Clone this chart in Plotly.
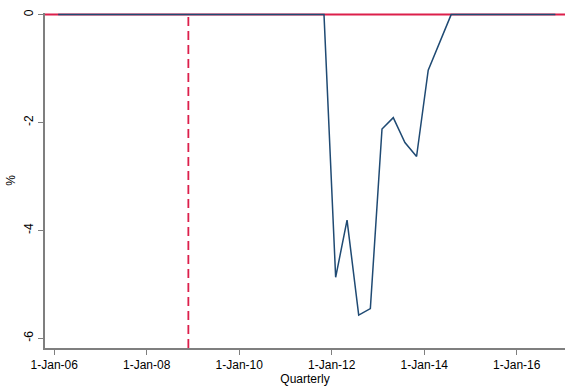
import plotly.graph_objects as go
import pandas as pd

# Quarterly series (%), mid-quarter dates from Feb 2006 to Nov 2016
dates = pd.date_range("2006-02-01", "2016-11-01", freq="3MS")
values = [0.0] * len(dates)
episode = {
    "2011-11-01": 0.0,
    "2012-02-01": -4.87,
    "2012-05-01": -3.81,
    "2012-08-01": -5.57,
    "2012-11-01": -5.45,
    "2013-02-01": -2.12,
    "2013-05-01": -1.91,
    "2013-08-01": -2.37,
    "2013-11-01": -2.63,
    "2014-02-01": -1.03,
    "2014-05-01": -0.52,
    "2014-08-01": 0.0,
}
for d, v in episode.items():
    values[list(dates).index(pd.Timestamp(d))] = v

event_date = "2008-11-25"
x_range = ["2005-10-20", "2017-01-16"]
y_range = [-6.18, 0.03]

x_tickvals = ["2006-01-01", "2008-01-01", "2010-01-01", "2012-01-01", "2014-01-01", "2016-01-01"]
x_ticktext = ["1-Jan-06", "1-Jan-08", "1-Jan-10", "1-Jan-12", "1-Jan-14", "1-Jan-16"]
y_tickvals = [0, -2, -4, -6]
y_ticktext = ["0", "-2", "-4", "-6"]

RED = "#dc1f4b"
BLUE = "#1f4a73"
AXIS = "#7f7f7f"
FONT = "Liberation Sans, Arial, sans-serif"

fig = go.Figure()

# reference line at zero
fig.add_trace(go.Scatter(
    x=x_range, y=[0, 0], mode="lines",
    line=dict(color=RED, width=2), hoverinfo="skip", showlegend=False,
))

fig.add_trace(go.Scatter(
    x=dates, y=values, mode="lines",
    line=dict(color=BLUE, width=1.5), showlegend=False,
))

# event marker
fig.add_shape(
    type="line", xref="x", yref="paper",
    x0=event_date, x1=event_date, y0=0, y1=1,
    line=dict(color=RED, width=1.8, dash="9px,5px"),
)

fig.update_layout(
    width=565, height=387,
    margin=dict(l=45, r=0, t=13, b=39),
    paper_bgcolor="white", plot_bgcolor="white",
    font=dict(family=FONT, size=12, color="black"),
)

fig.update_xaxes(
    range=x_range, type="date",
    tickvals=x_tickvals, ticktext=x_ticktext,
    ticks="outside", ticklen=5, tickcolor=AXIS, tickwidth=1,
    showline=True, linecolor=AXIS, linewidth=1.5,
    showgrid=False, zeroline=False,
    title=dict(text="Quarterly", font=dict(size=12), standoff=0),
    tickfont=dict(size=12),
)

fig.update_yaxes(
    range=y_range,
    tickvals=y_tickvals, ticktext=y_ticktext, tickangle=-90,
    ticks="outside", ticklen=5, tickcolor=AXIS, tickwidth=1,
    showline=True, linecolor=AXIS, linewidth=1.5,
    showgrid=False, zeroline=False,
    title=dict(text="%", font=dict(size=12), standoff=4),
    tickfont=dict(size=12),
)

fig.write_html("out.html")
